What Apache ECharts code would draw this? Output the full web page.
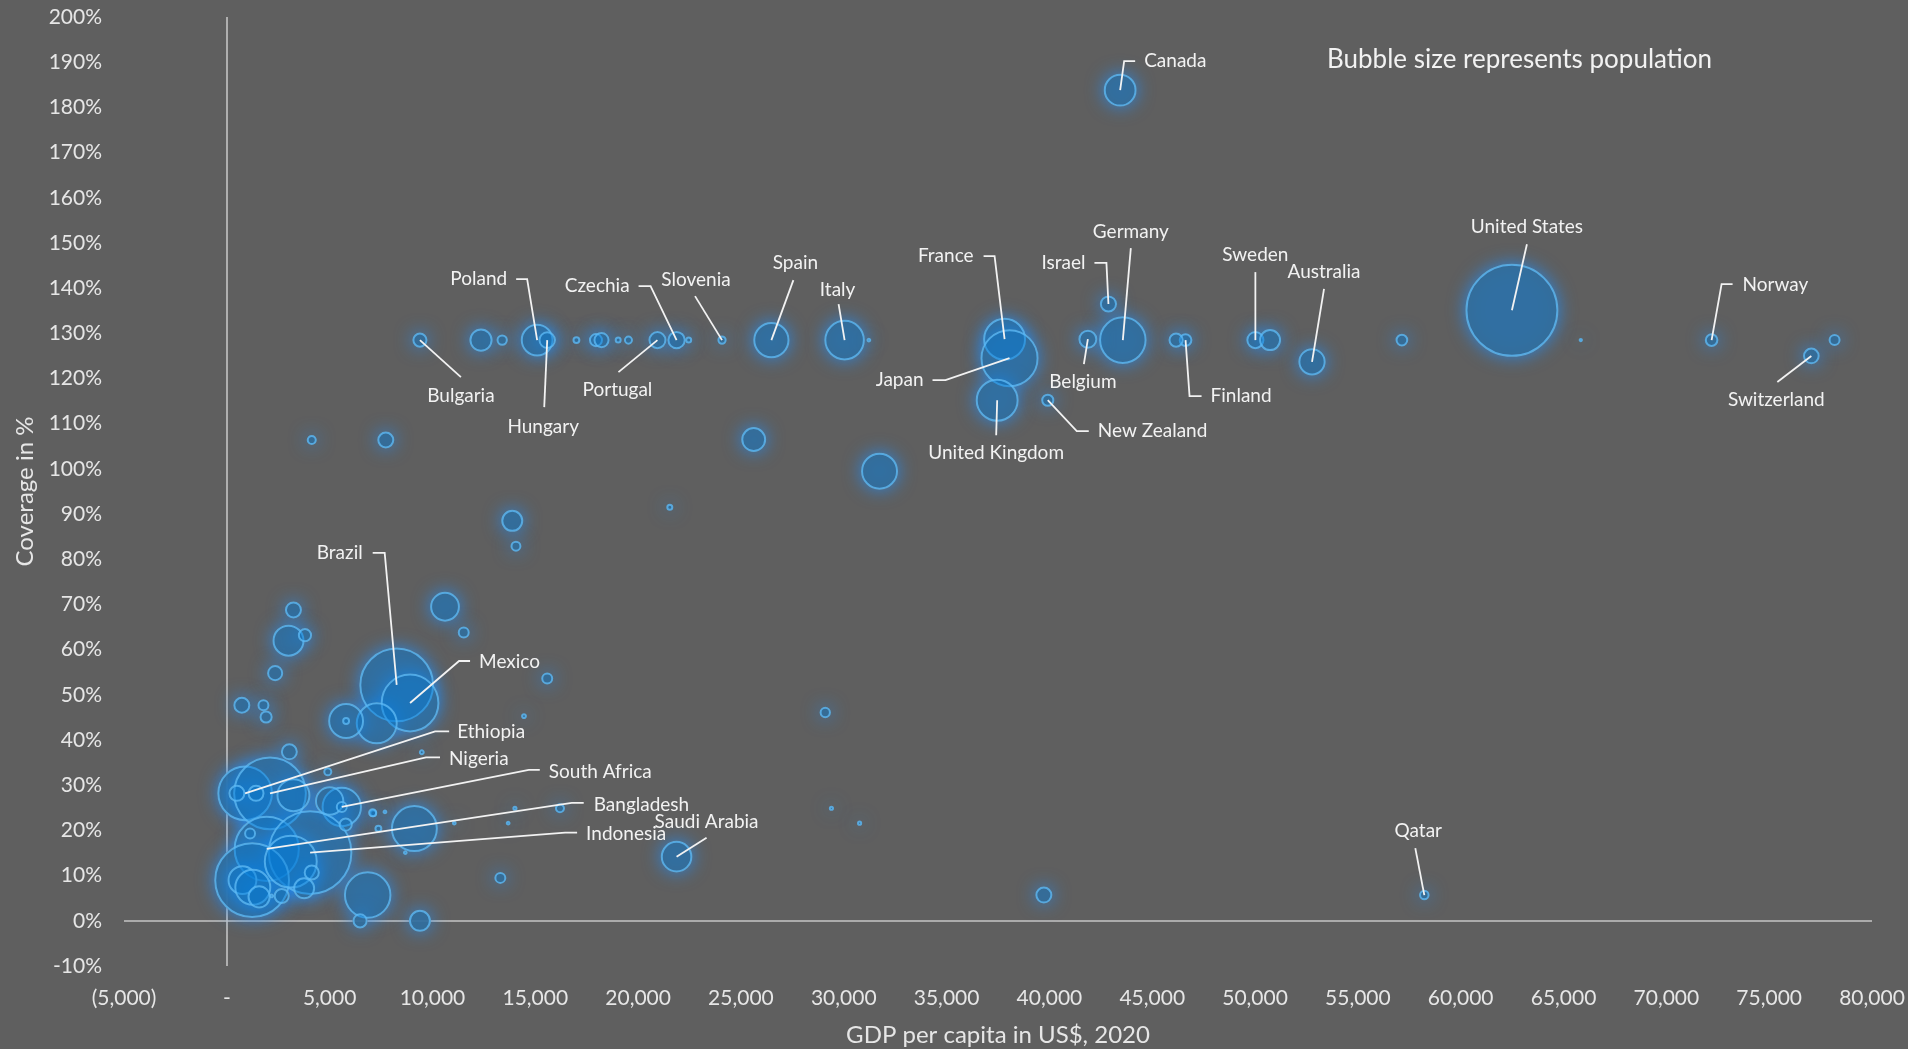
<!DOCTYPE html>
<html>
<head>
<meta charset="utf-8">
<title>Coverage vs GDP per capita</title>
<script src="https://cdn.jsdelivr.net/npm/echarts@6/dist/echarts.min.js"></script>
<style>
  html, body { margin: 0; padding: 0; background: #5F5F5F; }
  #chart { width: 1908px; height: 1049px; }
</style>
</head>
<body>
<div id="chart"></div>
<script>
// ---- data: one entry per country (name empty when no label is shown) ----
const countries = [
  'Canada', 'France', 'Japan', 'United Kingdom', 'Israel', 'Germany', 'Belgium', 'New Zealand',
  'Finland', 'Sweden', 'Australia', 'United States', 'Norway', 'Switzerland', 'Qatar', 'Saudi Arabia',
  'Bulgaria', 'Poland', 'Hungary', 'Czechia', 'Slovenia', 'Portugal', 'Spain', 'Italy',
  'Brazil', 'Mexico', 'Ethiopia', 'Nigeria', 'South Africa', 'Bangladesh', 'Indonesia',
  '', '', '', '', '', '', '', '', '', '', '', '', '', '',
  '', '', '', '', '', '', '', '', '', '', '', '', '', '', '', '', '', '', '', '', '', '', '', '', '', '', '', '', '', '', '', '', '', '', '', '', '', '', '', '', '', '', '', '', '', '', '', '', '', '', '', '', '', '', '', '', '', ''
];

// GDP per capita, US$ 2020
const gdpPerCapita = [
  43440, 37820, 38060, 37460, 42870, 43570, 41870, 39920,
  46620, 50015, 52770, 62490, 72200, 77050, 58230, 21870,
  9390, 15090, 15580, 21870, 24080, 20940, 26480, 30040,
  8260, 8910, 890, 2100, 5590, 1940, 4050,
  // row near 128%
  12360, 13390, 17000, 17950, 18220, 19030, 19530, 22460, 31220, 46160, 50730, 57140, 65840, 78180,
  // upper middle
  31740, 25620, 4130, 7730, 13880, 14060, 21540, 10610, 11520, 15580, 14450,
  3240, 3000, 3800, 2350, 730, 1780, 1910, 7290, 5800, 5800, 3040, 9480, 4910,
  29100, 29400, 30770, 39730, 13300, 16200, 14010, 13680, 11060, 7120, 7690, 7370,
  9120, 8680, 6850, 6480, 9390,
  // low-income cluster
  490, 1420, 3240, 5000, 5590, 5780, 7090, 1130, 1230, 3110, 760, 1263, 1570,
  3760, 2670, 2180, 4130, 4740, 3960, 3965
];

// Coverage in %
const coverage = [
  183.8, 128.7, 124.5, 115.2, 136.5, 128.5, 128.7, 115.2,
  128.5, 128.5, 123.7, 135.1, 128.5, 125.0, 5.7, 14.2,
  128.5, 128.5, 128.5, 128.5, 128.5, 128.5, 128.5, 128.5,
  52.2, 48.2, 28.2, 28.2, 25.2, 15.9, 15.1,
  128.5, 128.5, 128.5, 128.5, 128.5, 128.5, 128.5, 128.5, 128.5, 128.5, 128.5, 128.5, 128.5, 128.5,
  99.5, 106.5, 106.4, 106.4, 88.5, 82.9, 91.5, 69.5, 63.8, 53.6, 45.3,
  68.8, 62.0, 63.2, 54.8, 47.7, 47.7, 45.1, 43.7, 44.2, 44.2, 37.4, 37.3, 33.0,
  46.1, 24.9, 21.6, 5.7, 9.5, 24.9, 24.9, 21.6, 21.6, 23.8, 24.1, 20.4,
  20.4, 15.1, 5.7, 0, 0,
  28.2, 28.2, 27.8, 26.5, 25.2, 21.3, 23.9, 19.3, 9.0, 13.1, 9.0, 7.4, 5.3,
  7.2, 5.5, 5.5, 10.7, 5.5, 5.5, 19.3
];

// Population, millions (bubble size)
const population = [
  38, 67, 126, 67, 9.2, 83, 11.5, 5,
  5.5, 10.4, 25.7, 331, 5.4, 8.6, 2.9, 35,
  6.9, 38, 9.7, 10.7, 2.1, 10.3, 47, 59.5,
  212, 129, 115, 206, 59, 165, 273,
  18, 3.5, 1.4, 5.8, 8, 1, 2, 1, 0.3, 7, 16, 4.6, 0.2, 4,
  49, 21, 2.6, 9, 16, 3.2, 1, 31, 4, 4, 0.6,
  9, 36, 6, 8, 9, 4, 5, 64, 46, 1.4, 9, 0.6, 2,
  3.5, 0.4, 0.4, 9, 4, 2.6, 0.4, 0.3, 0.3, 1.4, 0.3, 1.4,
  81, 0.3, 83, 7, 16,
  9, 9, 41, 30, 4, 6, 2, 4, 218, 108, 31, 49, 18,
  16, 8, 0.3, 8, 0.4, 0.3, 0.5
];

// Axis ranges and ticks
const xRange = { min: -5000, max: 80000, step: 5000 };
const yRange = { min: -10, max: 200, step: 10 };

// ---- presentation ----
const FONT = 'Lato';
const TEXT = '#F2F2F2';
const BG = '#5F5F5F';
const bubbleScale = 5.0; // px per sqrt(million people)

// Leader line bends (px, relative to the bubble centre) and label anchor for each named country
const leaderLayout = {
  'Canada':         { path: [[4, -29], [15, -29]],   text: [24, -29],  align: 'left' },
  'France':         { path: [[-10, -83], [-21, -83]], text: [-31, -83], align: 'right' },
  'Japan':          { path: [[-64, 22], [-77, 22]],   text: [-86, 22],  align: 'right' },
  'United Kingdom': { path: [[-1, 35]],               text: [-1, 53],   align: 'center' },
  'Israel':         { path: [[-2, -41], [-14, -41]],  text: [-23, -41], align: 'right' },
  'Germany':        { path: [[8, -92]],               text: [8, -108],  align: 'center' },
  'Belgium':        { path: [[-4, 25]],               text: [-5, 43],   align: 'center' },
  'New Zealand':    { path: [[29, 31], [41, 31]],     text: [50, 31],   align: 'left' },
  'Finland':        { path: [[4, 56], [16, 56]],      text: [25, 56],   align: 'left' },
  'Sweden':         { path: [[0, -68]],               text: [0, -85],   align: 'center' },
  'Australia':      { path: [[12, -73]],              text: [12, -90],  align: 'center' },
  'United States':  { path: [[15, -66]],              text: [15, -83],  align: 'center' },
  'Norway':         { path: [[10, -56], [21, -56]],   text: [31, -55],  align: 'left' },
  'Switzerland':    { path: [[-34, 26]],              text: [-35, 44],  align: 'center' },
  'Qatar':          { path: [[-9, -47]],              text: [-6, -64],  align: 'center' },
  'Saudi Arabia':   { path: [[30, -19]],              text: [30, -35],  align: 'center' },
  'Bulgaria':       { path: [[41, 37]],               text: [41, 56],   align: 'center' },
  'Poland':         { path: [[-10, -61], [-21, -61]], text: [-30, -61], align: 'right' },
  'Hungary':        { path: [[-3, 67]],               text: [-4, 87],   align: 'center' },
  'Czechia':        { path: [[-26, -54], [-38, -54]], text: [-47, -54], align: 'right' },
  'Slovenia':       { path: [[-27, -44]],             text: [-26, -60], align: 'center' },
  'Portugal':       { path: [[-39, 32]],              text: [-40, 50],  align: 'center' },
  'Spain':          { path: [[22, -60]],              text: [24, -77],  align: 'center' },
  'Italy':          { path: [[-6, -36]],              text: [-7, -50],  align: 'center' },
  'Brazil':         { path: [[-12, -132], [-24, -132]], text: [-34, -132], align: 'right' },
  'Mexico':         { path: [[49, -42], [60, -42]],   text: [69, -41],  align: 'left' },
  'Ethiopia':       { path: [[190, -62], [204, -62]], text: [212, -61], align: 'left' },
  'Nigeria':        { path: [[156, -36], [170, -36]], text: [179, -34], align: 'left' },
  'South Africa':   { path: [[187, -37], [198, -37]], text: [207, -35], align: 'left' },
  'Bangladesh':     { path: [[305, -46], [317, -46]], text: [327, -44], align: 'left' },
  'Indonesia':      { path: [[255, -20], [267, -20]], text: [276, -19], align: 'left' }
};

const bubbles = countries.map((name, i) => ({
  name: name,
  value: [gdpPerCapita[i], coverage[i], population[i]]
}));

const labelled = countries.map((n, i) => i).filter(i => countries[i] && leaderLayout[countries[i]]);
const labelData = labelled.map(i => ({ name: countries[i], value: [gdpPerCapita[i], coverage[i]] }));

const bubbleSize = v => Math.max(2, bubbleScale * Math.sqrt(v[2]));

function fmtThousands(v) {
  return Math.abs(v).toString().replace(/\B(?=(\d{3})+(?!\d))/g, ',');
}

const chart = echarts.init(document.getElementById('chart'), null, { renderer: 'canvas' });

chart.setOption({
  backgroundColor: BG,
  animation: false,
  textStyle: { fontFamily: FONT },
  grid: { left: 124, right: 36, top: 17, bottom: 83, containLabel: false, outerBoundsMode: 'none' },
  graphic: [{
    type: 'text',
    left: 1327,
    top: 47,
    style: { text: 'Bubble size represents population', fill: TEXT, font: '26px ' + FONT }
  }],
  xAxis: {
    type: 'value',
    min: xRange.min, max: xRange.max, interval: xRange.step,
    axisLine: { show: false }, axisTick: { show: false }, splitLine: { show: false },
    axisLabel: {
      color: '#E6E6E6', fontSize: 21, fontFamily: FONT, margin: 22,
      formatter: v => v === 0 ? '-' : (v < 0 ? '(' + fmtThousands(v) + ')' : fmtThousands(v))
    },
    name: 'GDP per capita in US$, 2020',
    nameLocation: 'middle', nameGap: 57,
    nameTextStyle: { color: '#E6E6E6', fontSize: 24, fontFamily: FONT }
  },
  yAxis: {
    type: 'value',
    min: yRange.min, max: yRange.max, interval: yRange.step,
    axisLine: { show: false }, axisTick: { show: false }, splitLine: { show: false },
    axisLabel: { color: '#E6E6E6', fontSize: 21, fontFamily: FONT, margin: 22, formatter: v => v + '%' },
    name: 'Coverage in %',
    nameLocation: 'middle', nameGap: 86,
    nameTextStyle: { color: '#E6E6E6', fontSize: 24, fontFamily: FONT }
  },
  series: [
    {
      // zero lines of both axes
      type: 'line', data: [], silent: true, z: 1,
      markLine: {
        z: 1, silent: true, symbol: ['none', 'none'],
        label: { show: false },
        lineStyle: { color: '#C4C4C4', width: 1.6, type: 'solid' },
        data: [{ xAxis: 0 }, { yAxis: 0 }]
      }
    },
    {
      // outer glow: background-coloured discs whose shadow spreads outward
      type: 'scatter',
      z: 2,
      silent: true,
      data: bubbles,
      symbol: 'circle',
      symbolSize: v => bubbleSize(v) + 2,
      itemStyle: {
        color: BG,
        shadowBlur: 18,
        shadowColor: 'rgba(30,144,255,1)'
      },
      emphasis: { disabled: true }
    },
    {
      // translucent bubbles with light outline
      type: 'scatter',
      z: 3,
      data: bubbles,
      symbol: 'circle',
      symbolSize: bubbleSize,
      itemStyle: {
        color: 'rgba(4,124,213,0.55)',
        borderColor: '#5BB9F6',
        borderWidth: 2
      },
      emphasis: { disabled: true }
    },
    {
      // country labels with leader lines
      type: 'custom',
      z: 4,
      clip: false,
      silent: true,
      data: labelData,
      renderItem: function (params, api) {
        const name = labelData[params.dataIndex].name;
        const lay = leaderLayout[name];
        const p = api.coord([api.value(0), api.value(1)]);
        const pts = [[p[0], p[1]]].concat(lay.path.map(o => [p[0] + o[0], p[1] + o[1]]));
        return {
          type: 'group',
          children: [
            {
              type: 'polyline',
              shape: { points: pts },
              style: { stroke: TEXT, lineWidth: 1.8, fill: null }
            },
            {
              type: 'text',
              x: p[0] + lay.text[0],
              y: p[1] + lay.text[1],
              style: {
                text: name, fill: TEXT, fontSize: 19, fontFamily: FONT,
                align: lay.align, verticalAlign: 'middle'
              }
            }
          ]
        };
      }
    }
  ]
});
</script>
</body>
</html>
